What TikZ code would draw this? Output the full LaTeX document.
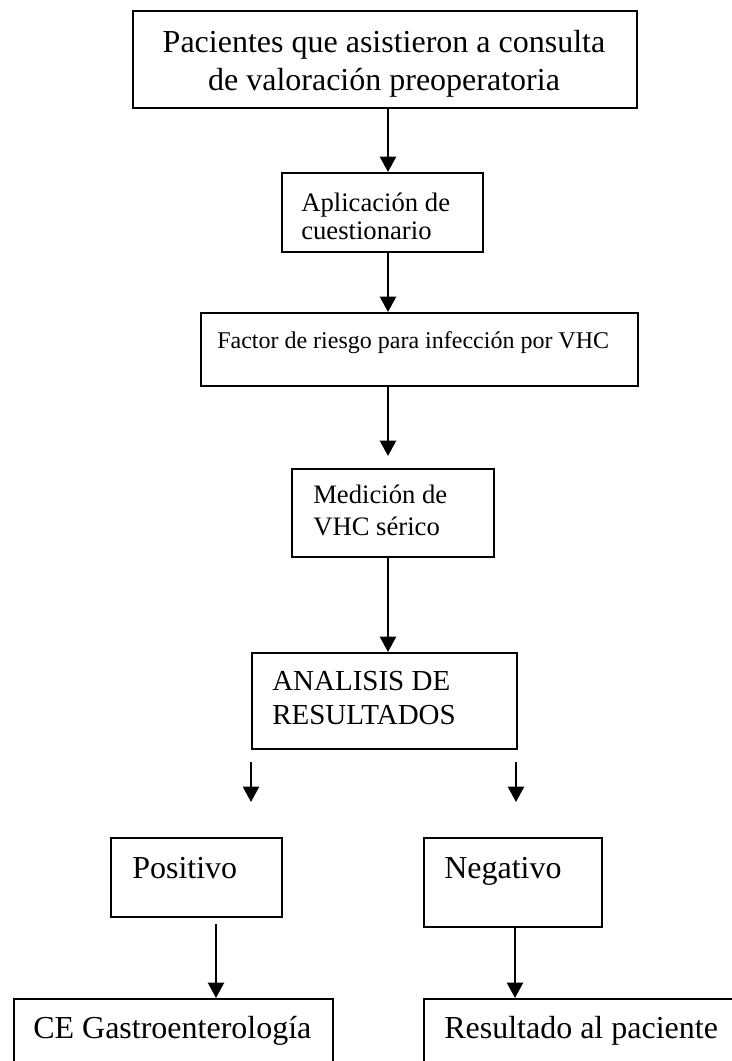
\documentclass[tikz,border=0pt]{standalone}
\usepackage{fontspec}
\setmainfont{Liberation Serif}
\usetikzlibrary{arrows.meta}

\begin{document}
\begin{tikzpicture}[x=0.75pt,y=0.75pt,yscale=-1,
  caja/.style={draw, line width=1.4pt, inner sep=0pt, anchor=north west},
  txt/.style={inner sep=0pt, anchor=base west},
  flecha/.style={line width=1.8pt, -{Triangle[length=11.5pt,width=12pt]}}]
\clip (0,0) rectangle (732,1061);

% Cajas
\node[caja, minimum width=378pt, minimum height=72.75pt] (pac) at (132,10) {};
\node[caja, minimum width=150.75pt, minimum height=59.25pt] (apl) at (281,172) {};
\node[caja, minimum width=327.75pt, minimum height=54.75pt] (fac) at (200,312) {};
\node[caja, minimum width=151.5pt, minimum height=66pt] (med) at (291,468) {};
\node[caja, minimum width=198.75pt, minimum height=72pt] (ana) at (251,652) {};
\node[caja, minimum width=128.25pt, minimum height=59.25pt] (pos) at (110,837) {};
\node[caja, minimum width=133.5pt, minimum height=66.75pt] (neg) at (423,837) {};
\node[caja, minimum width=239.25pt, minimum height=75pt] (gas) at (13,998) {};
\node[caja, minimum width=255pt, minimum height=75pt] (res) at (423,998) {};

% Textos
\node[txt, anchor=base, font=\fontsize{24}{28}\selectfont] (pac-a) at (384,52) {Pacientes que asistieron a consulta};
\node[txt, anchor=base, font=\fontsize{24}{28}\selectfont] (pac-b) at (384,90) {de valoración preoperatoria};
\node[txt, font=\fontsize{20}{24}\selectfont] (apl-a) at (301,211) {Aplicación de};
\node[txt, font=\fontsize{20}{24}\selectfont] (apl-b) at (301,239) {cuestionario};
\node[txt, font=\fontsize{18}{22}\selectfont] (fac-t) at (217,348) {Factor de riesgo para infección por VHC};
\node[txt, font=\fontsize{20}{24}\selectfont] (med-a) at (313,503) {Medición de};
\node[txt, font=\fontsize{20}{24}\selectfont] (med-b) at (313,535) {VHC sérico};
\node[txt, font=\fontsize{21.75}{26}\selectfont] (ana-a) at (272,690) {ANALISIS DE};
\node[txt, font=\fontsize{21.75}{26}\selectfont] (ana-b) at (272,724) {RESULTADOS};
\node[txt, font=\fontsize{24}{28}\selectfont] (pos-t) at (132,878) {Positivo};
\node[txt, font=\fontsize{24}{28}\selectfont] (neg-t) at (444,878) {Negativo};
\node[txt, font=\fontsize{24}{28}\selectfont] (gas-t) at (33,1038) {CE Gastroenterología};
\node[txt, font=\fontsize{24}{28}\selectfont] (res-t) at (444,1038) {Resultado al paciente};

% Flechas
\coordinate (eje) at (388,0);
\coordinate (medtip) at (388,456);
\coordinate (izq0) at (251,762);
\coordinate (izq1) at (251,802);
\coordinate (der0) at (516,762);
\coordinate (der1) at (516,802);
\coordinate (posbot) at (216,924);
\coordinate (negeje) at (515,0);
\draw[flecha] (pac.south -| eje) -- (apl.north -| eje);
\draw[flecha] (apl.south -| eje) -- (fac.north -| eje);
\draw[flecha] (fac.south -| eje) -- (medtip);
\draw[flecha] (med.south -| eje) -- (ana.north -| eje);
\draw[flecha] (izq0) -- (izq1);
\draw[flecha] (der0) -- (der1);
\draw[flecha] (posbot) -- (gas.north -| posbot);
\draw[flecha] (neg.south -| negeje) -- (res.north -| negeje);

\end{tikzpicture}
\end{document}
